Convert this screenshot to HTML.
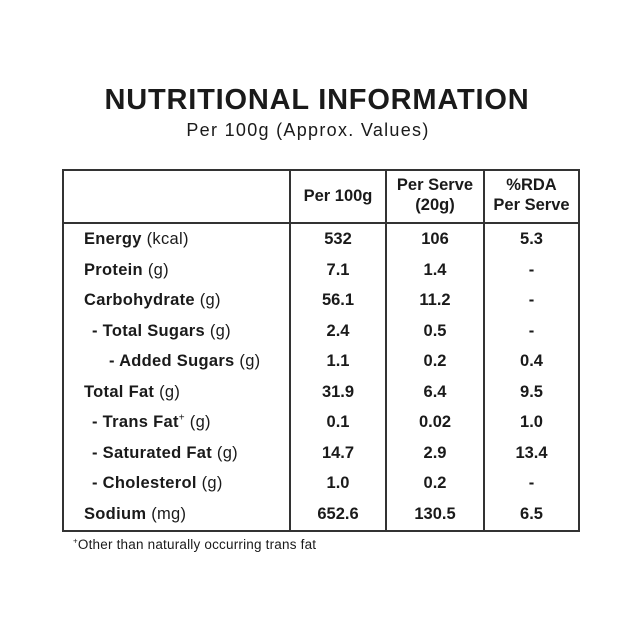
<!DOCTYPE html>
<html><head><style>
body{margin:0;width:640px;height:640px;background:#fff;font-family:"Liberation Sans",sans-serif;color:#1a1a1a;position:relative;overflow:hidden}
.t{position:absolute;left:0;width:640px;text-align:center}
.box{position:absolute;left:62px;top:169px;width:514px;height:359px;border:2px solid #333}
.v{position:absolute;top:169px;height:361px;width:2px;background:#333}
.h{position:absolute;left:62px;top:222px;width:516px;height:2px;background:#333}
.r{position:absolute;font-size:16.5px;line-height:20px;letter-spacing:0.3px}
.c{position:absolute;font-size:16.5px;text-align:center;line-height:20px}
b{font-weight:bold}
sup{line-height:0}
</style></head><body>
<div class="t" style="top:84px;font-size:29px;font-weight:bold;letter-spacing:0.8px;left:-3px">NUTRITIONAL INFORMATION</div>
<div class="t" style="top:120px;font-size:18px;letter-spacing:1.3px;left:-12px">Per 100g (Approx. Values)</div>
<div class="box"></div>
<div class="v" style="left:289px"></div>
<div class="v" style="left:385px"></div>
<div class="v" style="left:483px"></div>
<div class="h"></div>
<div class="c" style="left:291px;width:94px;top:186px"><b>Per 100g</b></div>
<div class="c" style="left:387px;width:96px;top:175px"><b>Per Serve<br>(20g)</b></div>
<div class="c" style="left:485px;width:93px;top:175px"><b>%RDA<br>Per Serve</b></div>
<div id="rows"></div>
<div style="position:absolute;left:73px;top:537px;font-size:13.5px;letter-spacing:0.2px"><sup style="font-size:8px">+</sup>Other than naturally occurring trans fat</div>
<script>
var d=[["<b>Energy</b> (kcal)","532","106","5.3",84],["<b>Protein</b> (g)","7.1","1.4","-",84],["<b>Carbohydrate</b> (g)","56.1","11.2","-",84],["<b>- Total Sugars</b> (g)","2.4","0.5","-",92],["<b>- Added Sugars</b> (g)","1.1","0.2","0.4",109],["<b>Total Fat</b> (g)","31.9","6.4","9.5",84],["<b>- Trans Fat</b><sup style='font-size:10px'>+</sup> (g)","0.1","0.02","1.0",92],["<b>- Saturated Fat</b> (g)","14.7","2.9","13.4",92],["<b>- Cholesterol</b> (g)","1.0","0.2","-",92],["<b>Sodium</b> (mg)","652.6","130.5","6.5",84]];
var h="";d.forEach(function(r,i){var y=229+i*30.5;
h+='<div class="r" style="left:'+r[4]+'px;top:'+y+'px">'+r[0]+'</div>';
h+='<div class="c" style="left:291px;width:94px;top:'+y+'px"><b>'+r[1]+'</b></div>';
h+='<div class="c" style="left:387px;width:96px;top:'+y+'px"><b>'+r[2]+'</b></div>';
h+='<div class="c" style="left:485px;width:93px;top:'+y+'px"><b>'+r[3]+'</b></div>';});
document.getElementById("rows").innerHTML=h;
</script>
</body></html>
